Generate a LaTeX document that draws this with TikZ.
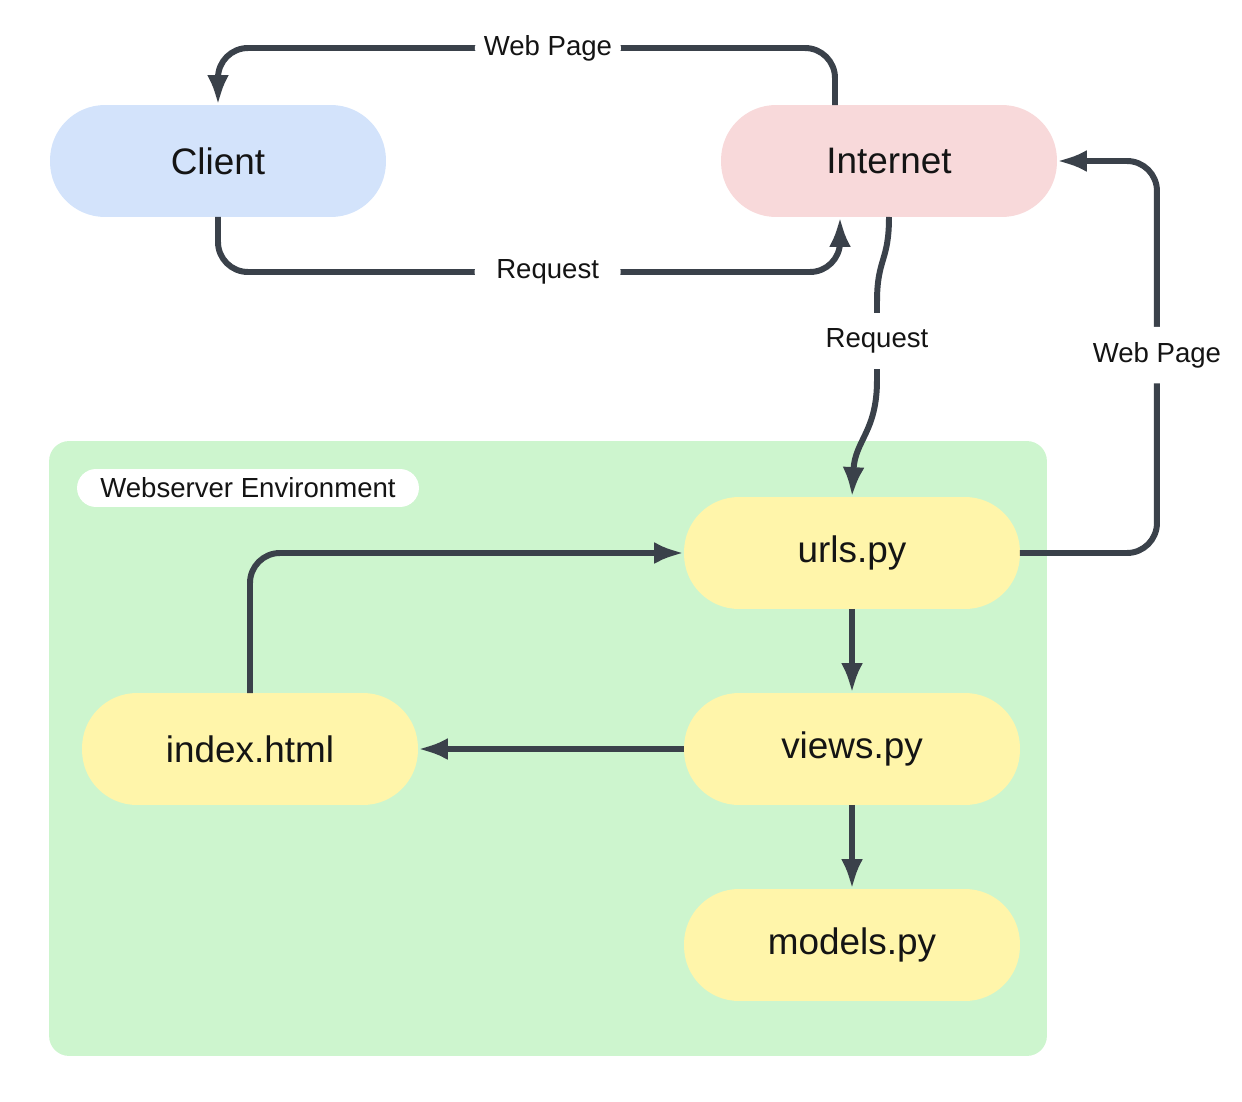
\documentclass[tikz,border=0pt]{standalone}
\usepackage{fontspec}
\setmainfont{Liberation Sans}
\usetikzlibrary{arrows.meta,calc}
\definecolor{cblue}{RGB}{211,227,251}
\definecolor{cpink}{RGB}{248,217,218}
\definecolor{cyel}{RGB}{255,245,170}
\definecolor{cgreen}{RGB}{205,245,206}
\definecolor{cline}{RGB}{58,65,74}
\definecolor{ctext}{RGB}{20,20,20}
\begin{document}
\begin{tikzpicture}[x=0.02cm,y=-0.02cm,
  pill/.style={rectangle, rounded corners=1.1cm, minimum width=6.72cm, minimum height=2.24cm,
    inner sep=0pt, outer sep=0pt, font=\fontsize{21}{25}\selectfont, text=ctext},
  conn/.style={draw=cline, line width=3.4pt, rounded corners=0.6cm,
    -{Latex[length=17pt,width=12.5pt]}},
  lbl/.style={fill=white, font=\fontsize{15.7}{19}\selectfont, inner sep=0pt,
    minimum width=2.92cm, minimum height=1.13cm, text=ctext},
  container/.style={rectangle, fill=cgreen, rounded corners=0.4cm, minimum width=19.96cm,
    minimum height=12.3cm, inner sep=0pt, outer sep=0pt},
  envlabel/.style={rectangle, fill=white, rounded corners=0.38cm, minimum width=6.84cm,
    minimum height=0.76cm, inner sep=0pt, font=\fontsize{15.7}{19}\selectfont, text=ctext}]
\useasboundingbox (0,0) rectangle (1242,1102);
% container
\node[container] (env) at (548,748.5) {};
\node[envlabel] (envl) at (248,488) {Webserver Environment};
% nodes
\node[pill, fill=cblue] (client) at (218,161) {Client};
\node[pill, fill=cpink] (internet) at (889,161) {Internet};
\node[pill, fill=cyel] (urls) at (852,553) {urls.py};
\node[pill, fill=cyel] (views) at (852,749) {views.py};
\node[pill, fill=cyel] (models) at (852,945) {models.py};
\node[pill, fill=cyel] (index) at (250,749) {index.html};
% Internet -> Client (Web Page)
\draw[conn] ($(internet.north)+(-54,0)$) -- ($(internet.north)+(-54,-57)$)
  -| node[lbl, pos=0.2326] {Web Page} (client.north);
% Client -> Internet (Request)
\draw[conn] (client.south) -- ($(client.south)+(0,55)$)
  -| node[lbl, pos=0.265] {Request} ($(internet.south)+(-49,0)$);
% Internet -> urls (Request)
\draw[conn, rounded corners=0pt] (internet.south) .. controls (889,262) and (877,258) .. (877,302)
  -- node[lbl] {Request} (877,380)
  .. controls (877,432) and (855,440) .. (urls.north);
% urls -> Internet (Web Page)
\draw[conn] (urls.east) -| node[lbl, pos=0.7525] {Web Page} ($(internet.east)+(100,0)$)
  -- (internet.east);
% index -> urls
\draw[conn] (index.north) |- (urls.west);
% urls -> views
\draw[conn] (urls.south) -- (views.north);
% views -> index
\draw[conn] (views.west) -- (index.east);
% views -> models
\draw[conn] (views.south) -- (models.north);
\end{tikzpicture}
\end{document}
